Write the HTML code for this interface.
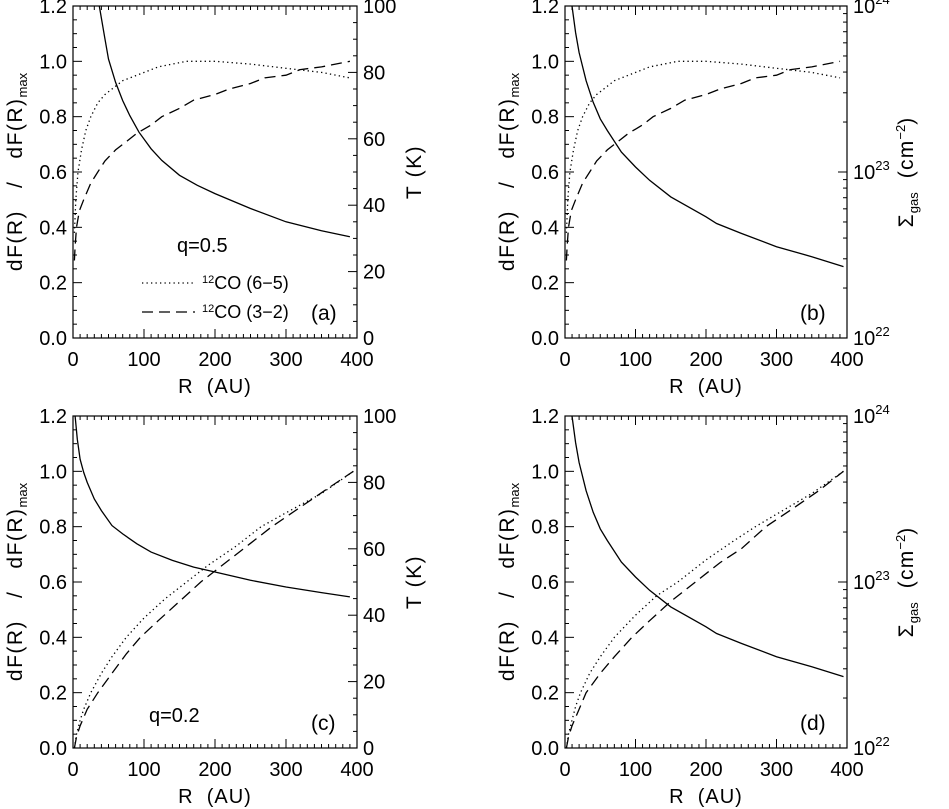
<!DOCTYPE html>
<html><head><meta charset="utf-8">
<style>
html,body{margin:0;padding:0;background:#fff;}
svg{display:block;font-family:"Liberation Sans","DejaVu Sans",sans-serif;}
text{fill:#000;white-space:pre;}
</style></head>
<body>
<svg id="fig" width="949" height="809" viewBox="0 0 949 809" xmlns="http://www.w3.org/2000/svg"></svg>
<script>
// ---- data ----
// Panel (a): q=0.5
const aSolidR = [37,45,50,60,70,80,93,110,125,150,175,200,250,300,350,390];
const aSolidT = [100,90,84,77,71.5,67,62,57,53.5,49,46,43.5,39,35,32.3,30.5];
const aDotR = [2,4,7,12,18,25,35,45,55,70,90,120,160,200,250,300,350,390];
const aDotV = [0.38,0.5,0.6,0.68,0.75,0.8,0.85,0.88,0.9,0.93,0.95,0.98,1.0,1.0,0.99,0.975,0.96,0.94];
const aDashR = [2,3,5,9,15,25,35,45,60,75,90,110,125,150,170,200,220,250,270,300,320,350,390];
const aDashV = [0.28,0.33,0.4,0.46,0.5,0.56,0.6,0.64,0.68,0.71,0.74,0.77,0.8,0.83,0.86,0.88,0.9,0.92,0.94,0.95,0.97,0.98,1.0];
// Panel (b)/(d): log10 surface density
const sigR = [10,15,20,30,40,50,60,80,100,120,150,200,215,250,300,350,395];
const sigLog = [24.0,23.84,23.72,23.55,23.42,23.32,23.25,23.12,23.03,22.95,22.85,22.73,22.69,22.63,22.55,22.49,22.43];
// Panel (c): q=0.2
const cSolidR = [3,6,10,15,20,30,40,55,70,90,110,140,170,200,250,300,350,390];
const cSolidT = [100,93,87,83,80,75,71.5,67,64.5,61.5,59,56.5,54.5,53,50.5,48.5,46.8,45.5];
const cDotR = [2,5,10,15,25,40,55,75,100,130,160,190,230,265,300,350,395];
const cDotV = [0.0,0.05,0.1,0.14,0.2,0.27,0.33,0.4,0.47,0.54,0.6,0.66,0.73,0.8,0.85,0.92,1.0];
const cDashR = [2,5,10,20,35,55,75,95,120,150,180,210,250,280,320,360,395];
const cDashV = [0.0,0.04,0.08,0.14,0.2,0.27,0.34,0.4,0.46,0.53,0.6,0.66,0.74,0.8,0.87,0.94,1.0];
// Panel (d)
const dDotR = [2,5,10,15,22,35,50,70,100,130,160,200,240,270,310,350,395];
const dDotV = [0.0,0.05,0.1,0.15,0.2,0.27,0.33,0.4,0.48,0.55,0.6,0.68,0.75,0.8,0.86,0.92,1.0];
const dDashR = [2,5,10,20,30,50,70,95,120,150,185,220,250,285,320,360,395];
const dDashV = [0.0,0.04,0.08,0.14,0.2,0.27,0.33,0.4,0.46,0.53,0.6,0.67,0.72,0.8,0.86,0.93,1.0];
const xTicks = ["0","100","200","300","400"];
const yTicks = ["0.0","0.2","0.4","0.6","0.8","1.0","1.2"];
const tTicks = ["0","20","40","60","80","100"];

const NS="http://www.w3.org/2000/svg";
const svg=document.getElementById('fig');
function el(tag,attrs,parent){const e=document.createElementNS(NS,tag);for(const k in attrs)e.setAttribute(k,attrs[k]);(parent||svg).appendChild(e);return e;}

function panel(L,T,R,B,id){
  const g=el('g',{});
  
  
  const sx=v=>L+(R-L)*v/400;
  const sy=v=>B-(B-T)*v/1.2;
  const box=el('rect',{x:L,y:T,width:R-L,height:B-T,fill:'none',stroke:'#000','stroke-width':1.2},g);
  
  
  for(let v=0;v<=400;v+=10){
    const len=(v%100===0)?9:4;
    el('line',{x1:sx(v),x2:sx(v),y1:B,y2:B-len,stroke:'#000','stroke-width':1},g);
    el('line',{x1:sx(v),x2:sx(v),y1:T,y2:T+len,stroke:'#000','stroke-width':1},g);
  }
  xTicks.forEach((t,i)=>{
    const tx=el('text',{x:sx(i*100),y:B+28,'font-size':20,'text-anchor':'middle'},g);tx.textContent=t;
    
    
  });
  for(let k=0;k<=24;k++){
    const v=k*0.05;const len=(k%4===0)?9:4;
    el('line',{x1:L,x2:L+len,y1:sy(v),y2:sy(v),stroke:'#000','stroke-width':1},g);
  }
  yTicks.forEach((t,i)=>{
    const tx=el('text',{x:L-6,y:sy(i*0.2)+7,'font-size':20,'text-anchor':'end'},g);tx.textContent=t;
    
    
  });
  const xt=el('text',{x:(L+R)/2,y:B+55,'font-size':20,'text-anchor':'middle','letter-spacing':1},g);xt.textContent='R\u00a0\u00a0(AU)';
  
  
  const yt=el('text',{transform:`translate(${L-51},${(T+B)/2}) rotate(-90)`,'font-size':21,'text-anchor':'middle','letter-spacing':1.5},g);
  yt.innerHTML='dF(R)\u00a0\u00a0\u00a0/\u00a0\u00a0\u00a0dF(R)<tspan font-size="13" dy="5" letter-spacing="0">max</tspan>';
  
  
  return {g,sx,sy,L,T,R,B};
}
function line(p,xs,ys,f,dash,name){
  const d=xs.map((x,i)=>(i?'L':'M')+p.sx(x).toFixed(1)+','+f(ys[i]).toFixed(1)).join(' ');
  const a={d,fill:'none',stroke:'#000','stroke-width':1.3};
  if(dash)a['stroke-dasharray']=dash;
  const e=el('path',a,p.g);
  
  
}
function tAxis(p){
  const ty=v=>p.B-(p.B-p.T)*v/100;
  for(let v=0;v<=100;v+=5){const len=(v%20===0)?9:4;el('line',{x1:p.R,x2:p.R-len,y1:ty(v),y2:ty(v),stroke:'#000'},p.g);}
  tTicks.forEach((t,i)=>{
    const tx=el('text',{x:p.R+6,y:ty(i*20)+7,'font-size':20},p.g);tx.textContent=t;
    
    
  });
  const tt=el('text',{transform:`translate(${p.R+64},${(p.T+p.B)/2}) rotate(-90)`,'font-size':21,'text-anchor':'middle','letter-spacing':1.5},p.g);tt.textContent='T\u00a0(K)';
  
  
  return ty;
}
function sigAxis(p){
  const ly=v=>p.B-(p.B-p.T)*(v-22)/2;
  for(let dec=22;dec<24;dec++){for(let m=1;m<10;m++){const v=dec+Math.log10(m);const len=m===1?9:4;el('line',{x1:p.R,x2:p.R-len,y1:ly(v),y2:ly(v),stroke:'#000'},p.g);}}
  [22,23,24].forEach(e=>{
    const tx=el('text',{x:p.R+6,y:ly(e)+7,'font-size':20},p.g);
    tx.innerHTML='10<tspan font-size="13" dy="-9">'+e+'</tspan>';
    
    
  });
  const tt=el('text',{transform:`translate(${p.R+66},${(p.T+p.B)/2}) rotate(-90)`,'font-size':21,'text-anchor':'middle','letter-spacing':1.2},p.g);
  tt.innerHTML='Σ<tspan font-size="13" dy="5" letter-spacing="0">gas</tspan><tspan dy="-5">\u00a0\u00a0(cm</tspan><tspan font-size="13" dy="-8" letter-spacing="0">−2</tspan><tspan dy="8">)</tspan>';
  
  
  return ly;
}
function label(p,x,y,t,name,size){
  const tx=el('text',{x,y,'font-size':size||20},p.g);tx.innerHTML=t;
  
  
}
const DOT='1.3 3.2', DASH='11 6';

// (a)
const pa=panel(73,6,357,338,'a');
const tya=tAxis(pa);
line(pa,aSolidR,aSolidT,tya,null,'temperature-line');
line(pa,aDotR,aDotV,pa.sy,DOT,'co65-line');
line(pa,aDashR,aDashV,pa.sy,DASH,'co32-line');
label(pa,177,252,'q=0.5','q-label');
el('line',{x1:142,x2:195,y1:283,y2:283,stroke:'#000','stroke-width':1.3,'stroke-dasharray':DOT},pa.g);
el('line',{x1:142,x2:195,y1:312,y2:312,stroke:'#000','stroke-width':1.3,'stroke-dasharray':DASH},pa.g);
label(pa,202,289,'<tspan font-size="11" dy="-6">12</tspan><tspan dy="6">CO (6−5)</tspan>','legend-co65',18);
label(pa,202,318,'<tspan font-size="11" dy="-6">12</tspan><tspan dy="6">CO (3−2)</tspan>','legend-co32',18);
label(pa,311,320,'(a)','panel-label-a',21);

// (b)
const pb=panel(565,6,847,338,'b');
const lyb=sigAxis(pb);
line(pb,sigR,sigLog,lyb,null,'surface-density-line');
line(pb,aDotR,aDotV,pb.sy,DOT,'co65-line');
line(pb,aDashR,aDashV,pb.sy,DASH,'co32-line');
label(pb,800,320,'(b)','panel-label-b',21);

// (c)
const pc=panel(73,416,357,748,'c');
const tyc=tAxis(pc);
line(pc,cSolidR,cSolidT,tyc,null,'temperature-line');
line(pc,cDotR,cDotV,pc.sy,DOT,'co65-line');
line(pc,cDashR,cDashV,pc.sy,DASH,'co32-line');
label(pc,149,722,'q=0.2','q-label');
label(pc,311,730,'(c)','panel-label-c',21);

// (d)
const pd=panel(565,416,847,748,'d');
const lyd=sigAxis(pd);
line(pd,sigR,sigLog,lyd,null,'surface-density-line');
line(pd,dDotR,dDotV,pd.sy,DOT,'co65-line');
line(pd,dDashR,dDashV,pd.sy,DASH,'co32-line');
label(pd,800,730,'(d)','panel-label-d',21);
</script>
</body></html>
